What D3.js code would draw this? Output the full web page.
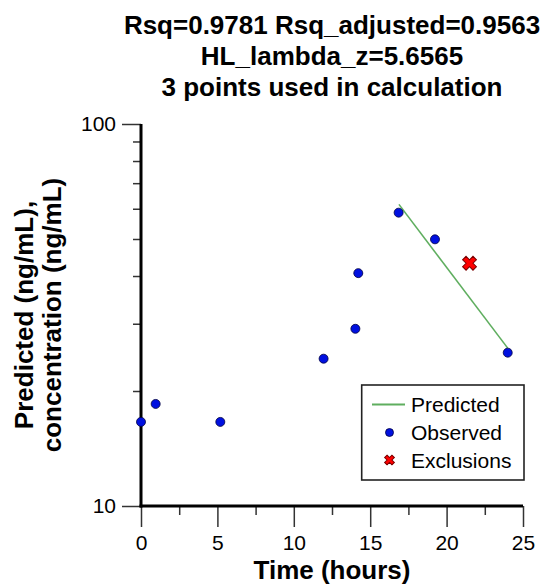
<!DOCTYPE html>
<html><head><meta charset="utf-8">
<script src="https://cdn.jsdelivr.net/npm/d3@7"></script>
<style>
html,body{margin:0;padding:0;background:#fff;}
text{font-family:"Liberation Sans",Arial,Helvetica,sans-serif;}
</style></head>
<body><svg id="c" width="548" height="588"></svg>
<script>
const titleLines = ["Rsq=0.9781 Rsq_adjusted=0.9563","HL_lambda_z=5.6565","3 points used in calculation"];
const yLabelLines = ["Predicted (ng/mL),","concentration (ng/mL)"];
const xLabel = "Time (hours)";
const obsTime = [0, 0.96, 5.19, 11.95, 14.03, 14.22, 16.86, 19.24, 24.0];
const obsConc = [16.6, 18.5, 16.6, 24.3, 29.1, 40.7, 58.6, 49.9, 25.2];
const exclTime = [21.5];
const exclConc = [43.2];
const predTime = [16.88, 24.0];
const predConc = [61.6, 25.9];
const xMajor = [0,5,10,15,20,25];
const xMinor = [2.5,7.5,12.5,17.5,22.5];
const yMajor = [10,100];
const yMinor = [20,30,40,50,60,70,80,90];
const legendItems = ["Predicted","Observed","Exclusions"];

const L=141, R=523, T=124, B=506;
const svg = d3.select("#c");
const x = d3.scaleLinear().domain([0,25]).range([L,R]);
const y = d3.scaleLog().domain([10,100]).range([B,T]);

// title
svg.append("g").selectAll("text").data(titleLines).join("text")
  .attr("x",(L+R)/2).attr("y",(d,i)=>34+i*31)
  .attr("text-anchor","middle").attr("font-size",26).attr("font-weight","bold").attr("fill","#000")
  .text(d=>d);

// y label
svg.append("g").attr("transform","translate(0,"+((T+B)/2)+") rotate(-90)")
  .selectAll("text").data(yLabelLines).join("text")
  .attr("x",0).attr("y",(d,i)=>i===0?33:61)
  .attr("text-anchor","middle").attr("font-size",26).attr("font-weight","bold").attr("fill","#000")
  .text(d=>d);

// x label
svg.append("text").attr("x",(L+R)/2).attr("y",579).attr("text-anchor","middle")
  .attr("font-size",26).attr("font-weight","bold").text(xLabel);

// y axis ticks
const yMaj = svg.append("g").attr("transform",`translate(${L},0)`)
  .call(d3.axisLeft(y).tickValues(yMajor).tickFormat(d3.format("d")).tickSize(19).tickPadding(6));
const yMin = svg.append("g").attr("transform",`translate(${L},0)`)
  .call(d3.axisLeft(y).tickValues(yMinor).tickFormat("").tickSize(8));
const xMaj = svg.append("g").attr("transform",`translate(0,${B})`)
  .call(d3.axisBottom(x).tickValues(xMajor).tickSize(21).tickPadding(4));
const xMin = svg.append("g").attr("transform",`translate(0,${B})`)
  .call(d3.axisBottom(x).tickValues(xMinor).tickFormat("").tickSize(9));
[yMaj,yMin,xMaj,xMin].forEach(g=>{
  g.select(".domain").remove();
  g.selectAll(".tick line").attr("stroke","#333").attr("stroke-width",1.5);
  g.selectAll(".tick text").attr("font-size",21).attr("fill","#000")
   .attr("font-family","'Liberation Sans',Arial,sans-serif");
});
xMaj.selectAll(".tick text").attr("dy","0.9em");

// axis lines
svg.append("line").attr("x1",L).attr("x2",L).attr("y1",T).attr("y2",B+1.5)
  .attr("stroke","#000").attr("stroke-width",3);
svg.append("line").attr("x1",L-1.5).attr("x2",R).attr("y1",B).attr("y2",B)
  .attr("stroke","#000").attr("stroke-width",3);

// predicted line
const line = d3.line().x(d=>x(d[0])).y(d=>y(d[1]));
svg.append("path").datum(predTime.map((t,i)=>[t,predConc[i]]))
  .attr("d",line).attr("fill","none").attr("stroke","#5fae5f").attr("stroke-width",1.6);

// observed
svg.append("g").selectAll("circle").data(obsTime.map((t,i)=>[t,obsConc[i]])).join("circle")
  .attr("cx",d=>x(d[0])).attr("cy",d=>y(d[1])).attr("r",4.5)
  .attr("fill","#0010e0").attr("stroke","#000040").attr("stroke-width",0.8);

// exclusions
const cross = d3.symbol().type(d3.symbolCross).size(120);
svg.append("g").selectAll("path").data(exclTime.map((t,i)=>[t,exclConc[i]])).join("path")
  .attr("d",cross).attr("transform",d=>`translate(${x(d[0])},${y(d[1])}) rotate(45)`)
  .attr("fill","#ff0000").attr("stroke","#700").attr("stroke-width",1);

// legend
const lg = svg.append("g");
lg.append("rect").attr("x",361.7).attr("y",385).attr("width",162.3).attr("height",95)
  .attr("fill","#fff").attr("stroke","#222").attr("stroke-width",1.6);
lg.append("line").attr("x1",372).attr("x2",405).attr("y1",404.5).attr("y2",404.5)
  .attr("stroke","#5fae5f").attr("stroke-width",2);
lg.append("circle").attr("cx",389.5).attr("cy",432.5).attr("r",4)
  .attr("fill","#0010e0").attr("stroke","#000040").attr("stroke-width",0.8);
lg.append("path").attr("d",d3.symbol().type(d3.symbolCross).size(60)())
  .attr("transform","translate(389.5,460) rotate(45)")
  .attr("fill","#ff0000").attr("stroke","#700").attr("stroke-width",1);
lg.selectAll("text.lt").data(legendItems).join("text").attr("class","lt")
  .attr("x",411).attr("y",(d,i)=>412+i*28).attr("font-size",21).attr("fill","#000").text(d=>d);
</script></body></html>
